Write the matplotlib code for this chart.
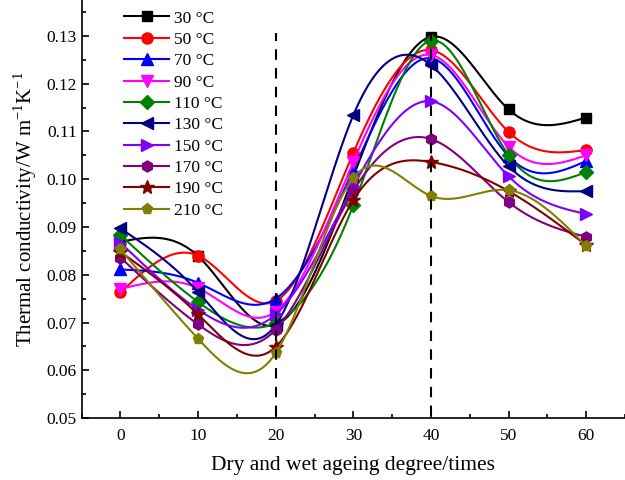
import numpy as np
import matplotlib
matplotlib.use("Agg")
import matplotlib.pyplot as plt
from matplotlib.ticker import MultipleLocator, FormatStrFormatter

plt.rcParams['font.family'] = ['Liberation Serif', 'DejaVu Serif']
plt.rcParams['mathtext.fontset'] = 'custom'
plt.rcParams['mathtext.rm'] = 'Liberation Serif'

x_times = [0, 10, 20, 30, 40, 50, 60]
labels = ['30 °C', '50 °C', '70 °C', '90 °C', '110 °C', '130 °C',
          '150 °C', '170 °C', '190 °C', '210 °C']

t30 = [0.0869, 0.0839, 0.0695, 0.1005, 0.1298, 0.1146, 0.1129]
t50 = [0.0763, 0.0840, 0.0745, 0.1055, 0.1270, 0.1099, 0.1061]
t70 = [0.0811, 0.0783, 0.0750, 0.1019, 0.1253, 0.1048, 0.1038]
t90 = [0.0770, 0.0772, 0.0723, 0.1036, 0.1260, 0.1068, 0.1050]
t110 = [0.0883, 0.0743, 0.0699, 0.0945, 0.1290, 0.1050, 0.1015]
t130 = [0.0897, 0.0764, 0.0695, 0.1134, 0.1239, 0.1027, 0.0975]
t150 = [0.0867, 0.0727, 0.0717, 0.0985, 0.1163, 0.1006, 0.0927]
t170 = [0.0836, 0.0696, 0.0685, 0.0975, 0.1084, 0.0952, 0.0879]
t190 = [0.0848, 0.0717, 0.0649, 0.0956, 0.1036, 0.0975, 0.0862]
t210 = [0.0853, 0.0666, 0.0636, 0.1003, 0.0965, 0.0977, 0.0860]

series = [t30, t50, t70, t90, t110, t130, t150, t170, t190, t210]
colors = ['#000000', '#FF0000', '#0000FF', '#FF00FF', '#008000', '#000080',
          '#8000FF', '#800080', '#800000', '#808000']
markers = ['s', 'o', '^', 'v', 'D', '<', '>', 'h', '*', 'p']
msizes = [7, 8, 8, 8, 7, 8, 8, 8, 10, 8]


def natural_spline(x, y, xs):
    x = np.asarray(x, float)
    y = np.asarray(y, float)
    n = len(x)
    h = np.diff(x)
    A = np.zeros((n, n))
    b = np.zeros(n)
    A[0, 0] = 1
    A[-1, -1] = 1
    for i in range(1, n - 1):
        A[i, i - 1] = h[i - 1]
        A[i, i] = 2 * (h[i - 1] + h[i])
        A[i, i + 1] = h[i]
        b[i] = 3 * ((y[i + 1] - y[i]) / h[i] - (y[i] - y[i - 1]) / h[i - 1])
    c = np.linalg.solve(A, b)
    out = np.empty_like(xs)
    for k, xv in enumerate(xs):
        i = min(max(np.searchsorted(x, xv) - 1, 0), n - 2)
        dx = xv - x[i]
        bi = (y[i + 1] - y[i]) / h[i] - h[i] * (2 * c[i] + c[i + 1]) / 3
        di = (c[i + 1] - c[i]) / (3 * h[i])
        out[k] = y[i] + bi * dx + c[i] * dx ** 2 + di * dx ** 3
    return out


fig = plt.figure(figsize=(6.25, 4.8), dpi=100)
ax = fig.add_axes([0.1306, 0.129, 0.8694, 0.871])

xs = np.linspace(0, 60, 600)
for ys, col, mk, ms, lab in zip(series, colors, markers, msizes, labels):
    ax.plot(xs, natural_spline(x_times, ys, xs), color=col, lw=1.5)
    ax.plot(x_times, ys, linestyle='none', marker=mk, color=col, ms=ms)
    ax.plot([], [], color=col, lw=1.5, marker=mk, ms=ms, label=lab)

ax.vlines([20, 40], 0.0505, 0.1305, colors='black', linestyles=(0, (5, 4)), lw=1.5)

ax.set_xlim(-5, 65)
ax.set_ylim(0.05, 0.1375)
ax.xaxis.set_major_locator(MultipleLocator(10))
ax.xaxis.set_minor_locator(MultipleLocator(5))
ax.yaxis.set_major_locator(MultipleLocator(0.01))
ax.yaxis.set_minor_locator(MultipleLocator(0.005))
ax.yaxis.set_major_formatter(FormatStrFormatter('%.2f'))
ax.tick_params(which='both', direction='in', labelsize=12.5, width=1.2)
ax.tick_params(which='major', length=5)
ax.tick_params(which='minor', length=3)
ax.tick_params(axis='x', pad=7)
ax.spines['top'].set_visible(False)
ax.spines['right'].set_visible(False)
ax.spines['left'].set_linewidth(1.2)
ax.spines['bottom'].set_linewidth(1.2)

ax.set_xlabel('Dry and wet ageing degree/times', fontsize=15.5, labelpad=9)
ax.set_ylabel('Thermal conductivity/W m$^{-1}$K$^{-1}$', fontsize=15, labelpad=5)

ax.legend(loc='upper left', bbox_to_anchor=(0.062, 0.996), frameon=False,
          fontsize=12.5, labelspacing=0.3, handlelength=2.6, handletextpad=0.3,
          borderaxespad=0.1)

fig.savefig('out.png', dpi=100)
